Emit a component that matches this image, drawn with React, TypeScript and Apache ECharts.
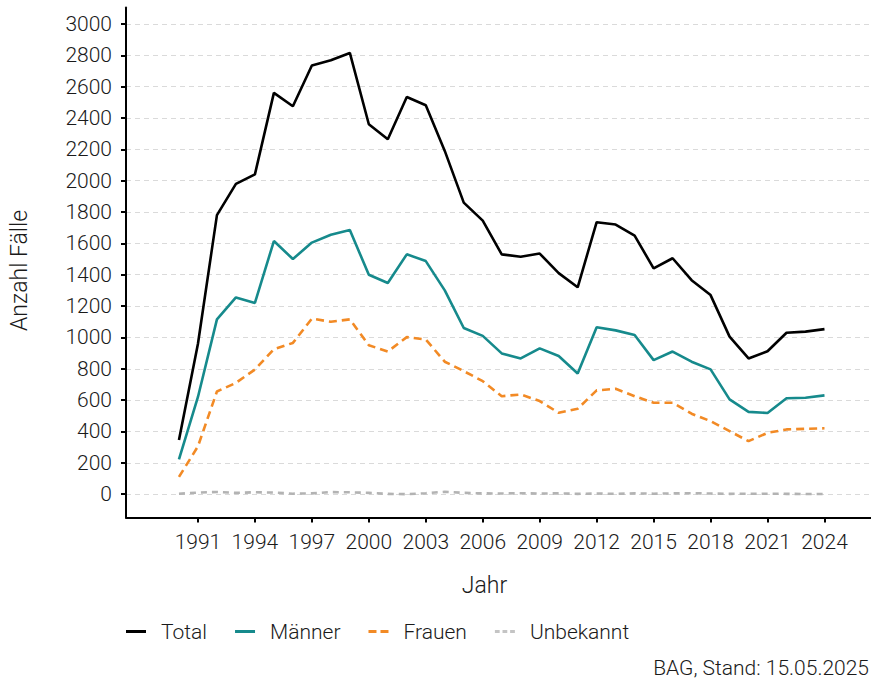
import React, { useEffect, useRef } from "react";
import * as echarts from "echarts";

const years = [
  1990, 1991, 1992, 1993, 1994, 1995, 1996, 1997, 1998, 1999, 2000, 2001,
  2002, 2003, 2004, 2005, 2006, 2007, 2008, 2009, 2010, 2011, 2012, 2013,
  2014, 2015, 2016, 2017, 2018, 2019, 2020, 2021, 2022, 2023, 2024,
];
const total = [
  345, 960, 1780, 1980, 2040, 2560, 2475, 2735, 2768, 2815, 2360, 2264, 2534,
  2481, 2190, 1860, 1745, 1530, 1515, 1535, 1410, 1320, 1735, 1720, 1650, 1440,
  1505, 1365, 1270, 1005, 866, 912, 1030, 1037, 1053,
];
const maenner = [
  222, 620, 1115, 1255, 1220, 1615, 1500, 1605, 1655, 1685, 1400, 1347, 1530,
  1487, 1300, 1060, 1010, 898, 866, 930, 881, 770, 1065, 1045, 1015, 855, 910,
  845, 796, 605, 525, 518, 612, 615, 630,
];
const frauen = [
  110, 305, 655, 710, 795, 925, 965, 1120, 1100, 1115, 950, 910, 1002, 987,
  845, 785, 721, 625, 636, 594, 519, 545, 662, 672, 625, 583, 583, 513, 466,
  402, 338, 391, 413, 417, 420,
];
const unbekannt = [
  3, 10, 14, 8, 12, 10, 3, 5, 13, 12, 8, 2, 0, 6, 15, 8, 5, 4, 6, 4, 5, 2, 4,
  2, 5, 3, 5, 6, 4, 2, 3, 3, 2, 1, 1,
];
const xTicks = [1991, 1994, 1997, 2000, 2003, 2006, 2009, 2012, 2015, 2018, 2021, 2024];
const yTicks = [0, 200, 400, 600, 800, 1000, 1200, 1400, 1600, 1800, 2000, 2200, 2400, 2600, 2800, 3000];
const seriesNames = ["Total", "Männer", "Frauen", "Unbekannt"];
const caption = "BAG, Stand: 15.05.2025";

const FONT = "Roboto, 'DejaVu Sans Condensed', sans-serif";
const TXT = "#1a1a1a";
const FS = 21;
const FW = 300;

export default function App() {
  const ref = useRef<HTMLDivElement>(null);

  useEffect(() => {
    document.body.style.margin = "0";
    document.body.style.overflow = "hidden";
    if (!ref.current) return;
    const chart = echarts.init(ref.current, undefined, { renderer: "svg" });

    const toPairs = (vals: number[]) => years.map((y, i) => [y, vals[i]]);

    const styles = [
      { color: "#000000", type: "solid" as any, width: 2.6 },
      { color: "#168a8c", type: "solid" as any, width: 2.6 },
      { color: "#f28a25", type: [8, 5] as any, width: 2.6 },
      { color: "#b3b3b3", type: [6, 5] as any, width: 2.6 },
    ];
    const legendIcons = [
      "path://M0,0H20V3H0Z",
      "path://M0,0H20V3H0Z",
      "path://M0,0H8V3H0Z M12,0H20V3H12Z",
      "path://M0,0H5V3H0Z M8,0H13V3H8Z M16,0H21V3H16Z",
    ];
    const legendColors = ["#000000", "#168a8c", "#f28a25", "#c4c4c4"];
    const datasets = [total, maenner, frauen, unbekannt];

    const txt = { fontSize: FS, color: TXT, fontFamily: FONT, fontWeight: FW as any };
    const titleTxt = { ...txt, fontSize: 23 };

    chart.setOption({
      animation: false,
      textStyle: { fontFamily: FONT },
      grid: { left: 125, right: 0, top: 7.5, bottom: 683 - 517.5, containLabel: false },
      xAxis: {
        type: "value",
        min: 1987.21,
        max: 2026.45,
        name: "Jahr",
        nameLocation: "middle",
        nameGap: 56,
        nameTextStyle: { ...titleTxt, padding: [0, 28, 0, 0] },
        axisLine: { show: true, onZero: false, lineStyle: { color: "#000", width: 2 } },
        axisTick: { show: true, length: 5, lineStyle: { color: "#000", width: 2 }, customValues: xTicks },
        axisLabel: {
          ...txt,
          customValues: xTicks,
          margin: 14,
          formatter: (v: number) => String(v),
        },
        splitLine: { show: false },
      },
      yAxis: {
        type: "value",
        min: -149,
        max: 3105,
        name: "Anzahl Fälle",
        nameLocation: "middle",
        nameGap: 95,
        nameRotate: 90,
        nameTextStyle: { ...titleTxt, padding: [0, 16, 0, 0] },
        axisLine: { show: true, onZero: false, lineStyle: { color: "#000", width: 2 } },
        axisTick: { show: true, length: 5, lineStyle: { color: "#000", width: 2 }, customValues: yTicks },
        axisLabel: {
          ...txt,
          customValues: yTicks,
          margin: 14,
          formatter: (v: number) => String(v),
        },
        splitLine: { show: true, lineStyle: { color: "#dadada", width: 1, type: [5, 4] } },
      },
      legend: {
        left: 121,
        top: 616,
        itemWidth: 20,
        itemHeight: 3,
        itemGap: 28,
        textStyle: { ...txt, padding: [0, 0, 0, 10] },
        data: seriesNames.map((n, i) => ({
          name: n,
          icon: legendIcons[i],
          itemStyle: { color: legendColors[i] },
        })),
      },
      graphic: [
        {
          type: "text",
          right: 2,
          top: 657,
          style: { text: caption, font: `${FW} ${FS}px ${FONT}`, fill: TXT },
        },
      ],
      series: seriesNames.map((n, i) => ({
        name: n,
        type: "line",
        data: toPairs(datasets[i]),
        symbol: "none",
        showSymbol: false,
        z: 10 - i,
        lineStyle: styles[i],
        itemStyle: { color: styles[i].color },
        emphasis: { disabled: true },
      })),
    });

    return () => chart.dispose();
  }, []);

  return <div ref={ref} style={{ width: 871, height: 683 }} />;
}
